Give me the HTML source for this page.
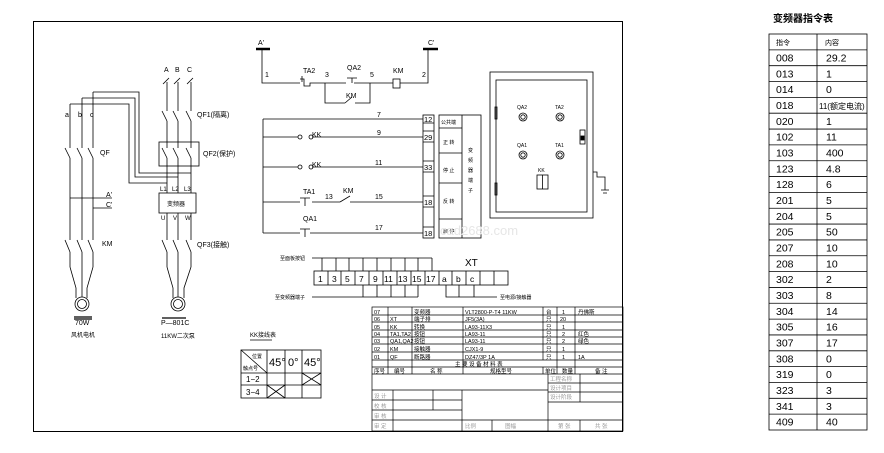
<!DOCTYPE html>
<html><head><meta charset="utf-8"><style>
html,body{margin:0;padding:0;background:#fff;}
svg{display:block;}
text{font-family:"Liberation Sans","Noto Sans CJK SC",sans-serif;fill:#000;}
</style></head><body>
<svg width="884" height="453" viewBox="0 0 884 453" xmlns="http://www.w3.org/2000/svg" stroke="#000" stroke-width="1" fill="none">
<rect x="33.5" y="21.5" width="589" height="410"/>

<g stroke-width="0.8">
<path d="M167 82V267M178 82V267M191 82V267"/>
<path d="M70 104V267M82 98V267M93 92V267"/>
<path d="M93 92H139V173H191M82 98H135V177H178M70 104H129V183H167"/>
</g>
<g stroke="#fff" stroke-width="3">
<path d="M167 111V121M178 111V121M191 111V121M167 148V158M178 148V158M191 148V158M70 148V158M82 148V158M93 148V158M70 240V252M82 240V252M93 240V252M167 240V252M178 240V252M191 240V252"/>
</g>
<g stroke-width="0.8">
<path d="M162 111L167 121M173 111L178 121M186 111L191 121M162 148L167 158M173 148L178 158M186 148L191 158M65 148L70 158M77 148L82 158M88 148L93 158M65 240L70 252M77 240L82 252M88 240L93 252M162 240L167 252M173 240L178 252M186 240L191 252"/>
<rect x="159" y="142" width="40" height="24"/>
<rect x="159" y="193" width="37" height="20" fill="#fff"/>
<path d="M70 198H112M93 208H112"/>
<path d="M70 267L76 288V298M93 267L87 288V298M82 267V298M167 267L173 288V298M191 267L184 288V298M178 267V298"/>
<circle cx="82" cy="304" r="7" fill="#fff"/><circle cx="82" cy="304" r="4.5"/>
<circle cx="178" cy="304" r="7" fill="#fff"/><circle cx="178" cy="304" r="4.5"/>
<path d="M163 84L169 78M174 84L180 78M187 84L193 78"/>
<path d="M74 317H92M74 319H92M162 318H186" stroke-width="1.2"/>
</g>
<g font-size="7" stroke="none">
<text x="164" y="72">A</text><text x="175" y="72">B</text><text x="187" y="72">C</text>
<text x="65" y="117">a</text><text x="78" y="117">b</text><text x="90" y="117">c</text>
<text x="197" y="117">QF1(隔离)</text>
<text x="100" y="155">QF</text>
<text x="203" y="156">QF2(保护)</text>
<text x="106" y="197">A'</text><text x="106" y="207">C'</text>
<text x="160" y="191" font-size="6">L1</text><text x="172" y="191" font-size="6">L2</text><text x="184" y="191" font-size="6">L3</text>
<text x="167" y="206" font-size="6">变频器</text>
<text x="161" y="220" font-size="6">U</text><text x="173" y="220" font-size="6">V</text><text x="185" y="220" font-size="6">W</text>
<text x="102" y="246">KM</text>
<text x="197" y="247">QF3(接触)</text>
<text x="75" y="325">70W</text><text x="71" y="337" font-size="6">风机电机</text>
<text x="161" y="325">P—801C</text><text x="161" y="338" font-size="6">11KW二次泵</text>
</g>

<g stroke-width="0.8">
<path d="M256 49H270M423 49H438" stroke-width="2.5"/>
<path d="M262 49V83H300M312 83H322M322 83H344M356 83H393M400 83H428V49"/>
<rect x="393" y="79" width="7" height="9"/>
<path d="M300 79H304V86H310V83H312M302 76V82" />
<path d="M344 83H346M352 78V83M347 78H357M354 83H356"/>
<path d="M325 83V103H345M355 103H370V83M345 103L352 97"/>
<path d="M263 119V233M263 119H423M263 137H298M312 137H423M263 167H298M312 167H423M263 202H300M312 202H340M350 202H423M263 233H300M310 233H423"/>
<path d="M305 198V206M300 198H310M340 202L350 196M305 229V237M300 229H310"/>
<circle cx="300" cy="137" r="2"/><circle cx="311" cy="137" r="2"/>
<circle cx="300" cy="167" r="2"/><circle cx="311" cy="167" r="2"/>
<rect x="423" y="115" width="11" height="123"/>
<path d="M423 123H434M423 131H434M423 142H434M423 161H434M423 172H434M423 196H434M423 207H434M423 227H434"/>
<rect x="439" y="115" width="42" height="123"/>
<path d="M462 115V238M439 128H462M439 153H462M439 183H462M439 219H462"/>
<rect x="490" y="72" width="103" height="146"/>
<rect x="496" y="80" width="91" height="132"/>
<circle cx="523" cy="117" r="4"/><circle cx="523" cy="117" r="2.2"/>
<circle cx="560" cy="117" r="4"/><circle cx="560" cy="117" r="2.2"/>
<circle cx="523" cy="155" r="4"/><circle cx="523" cy="155" r="2.2"/>
<circle cx="560" cy="155" r="4"/><circle cx="560" cy="155" r="2.2"/>
<rect x="537" y="175" width="11" height="14"/><path d="M542.5 175V189"/>
<rect x="580" y="130" width="5" height="14"/><rect x="581" y="136" width="3" height="4" fill="#000"/>
<rect x="495" y="107" width="2" height="12"/><rect x="495" y="183" width="2" height="12"/>
<path d="M593 172H597V177H605V190M601 190H609M603 193H607"/>
</g>
<g font-size="7" stroke="none">
<text x="258" y="45">A'</text><text x="428" y="45">C'</text>
<text x="265" y="77">1</text><text x="303" y="73">TA2</text><text x="325" y="77">3</text>
<text x="347" y="70">QA2</text><text x="370" y="77">5</text><text x="393" y="73">KM</text><text x="422" y="77">2</text>
<text x="346" y="98">KM</text>
<text x="377" y="117">7</text><text x="377" y="135">9</text><text x="375" y="165">11</text>
<text x="375" y="199">15</text><text x="375" y="230">17</text>
<text x="312" y="137">KK</text><text x="312" y="167">KK</text>
<text x="303" y="194">TA1</text><text x="325" y="199">13</text><text x="343" y="193">KM</text>
<text x="303" y="221">QA1</text>
<text x="424" y="122" font-size="7.5">12</text><text x="424" y="140" font-size="7.5">29</text>
<text x="424" y="170" font-size="7.5">33</text><text x="424" y="205" font-size="7.5">18</text>
<text x="424" y="236" font-size="7.5">18</text>
<text x="441" y="124" font-size="5">公共端</text>
<text x="443" y="144" font-size="5">正 转</text><text x="443" y="172" font-size="5">停 止</text>
<text x="443" y="203" font-size="5">反 转</text><text x="443" y="233" font-size="5">启 停</text>
<text x="468" y="152" font-size="5">变</text><text x="468" y="162" font-size="5">频</text>
<text x="468" y="172" font-size="5">器</text><text x="468" y="182" font-size="5">端</text><text x="468" y="192" font-size="5">子</text>
<text x="517" y="109" font-size="5">QA2</text><text x="555" y="109" font-size="5">TA2</text>
<text x="517" y="147" font-size="5">QA1</text><text x="555" y="147" font-size="5">TA1</text>
<text x="538" y="172" font-size="5">KK</text>
<text x="440" y="235" font-size="13" style="fill:#e6e6e6">cad2688.com</text>
</g>

<g stroke-width="0.8">
<path d="M312 258H432M322 258V271M336 258V271M349 258V271M363 258V271M377 258V271M391 258V271M405 258V271M418 258V271M432 258V271"/>
<rect x="314" y="271" width="194" height="14"/>
<path d="M328 271V285M341 271V285M355 271V285M369 271V285M383 271V285M397 271V285M411 271V285M425 271V285M439 271V285M452 271V285M466 271V285M480 271V285M494 271V285"/>
<path d="M312 297H418M363 285V297M377 285V297M391 285V297M405 285V297M418 285V297M446 285V297H497M459 285V297M474 285V297"/>
</g>
<g font-size="8.5" stroke="none">
<text x="318" y="282">1</text><text x="332" y="282">3</text><text x="345" y="282">5</text><text x="359" y="282">7</text>
<text x="373" y="282">9</text><text x="384" y="282">11</text><text x="398" y="282">13</text><text x="412" y="282">15</text>
<text x="426" y="282">17</text><text x="442" y="282">a</text><text x="456" y="282">b</text><text x="470" y="282">c</text>
<text x="465" y="266" font-size="10">XT</text>
<text x="280" y="260" font-size="5">至面板按钮</text>
<text x="275" y="299" font-size="5">至变频器端子</text>
<text x="500" y="299" font-size="5">至电源/接触器</text>
</g>

<g stroke-width="0.8">
<text x="250" y="337" font-size="6" stroke="none">KK接线表</text>
<path d="M250 340H272"/>
<rect x="241" y="350" width="80" height="48"/>
<path d="M267 350V398M285 350V398M302 350V398M241 373H321M241 385H321M241 350L267 373M302 373L321 385M302 385L321 373M267 385L285 398M267 398L285 385"/>
</g>
<g font-size="8" stroke="none">
<text x="252" y="358" font-size="5">位置</text><text x="243" y="370" font-size="5">触点号</text>
<text x="269" y="366" font-size="11">45°</text><text x="288" y="366" font-size="11">0°</text><text x="304" y="366" font-size="11">45°</text>
<text x="246" y="382">1−2</text><text x="246" y="395">3−4</text>
</g>

<g stroke-width="0.7">
<rect x="372" y="307" width="251" height="124"/>
<path d="M372 315H623M372 322H623M372 330H623M372 337H623M372 344H623M372 352H623M372 360H623M372 367H623M372 374H623"/>
<path d="M388 307V374M412 307V374M463 307V374M543 307V360M557 307V374M575 307V374M543 367V374"/>
<path d="M372 390H548M372 400H462M372 410H462M372 420H623M393 390V431M433 390V410M462 390V431M548 374V431M580 374V402M548 383H623M548 392H623M548 402H623M492 420V431M580 420V431"/>
</g>
<g font-size="5.5" stroke="none">
<text x="374" y="314">07</text><text x="414" y="314">变频器</text><text x="465" y="314">VLT2800-P-T4 11KW</text><text x="546" y="314">台</text><text x="562" y="314">1</text><text x="578" y="314">丹佛斯</text>
<text x="374" y="321">06</text><text x="390" y="321">XT</text><text x="414" y="321">端子排</text><text x="465" y="321">JF5(3A)</text><text x="546" y="321">只</text><text x="560" y="321">20</text>
<text x="374" y="329">05</text><text x="390" y="329">KK</text><text x="414" y="329">转换</text><text x="465" y="329">LA93-11X3</text><text x="546" y="329">只</text><text x="562" y="329">1</text>
<text x="374" y="336">04</text><text x="390" y="336">TA1,TA2</text><text x="414" y="336">按钮</text><text x="465" y="336">LA93-11</text><text x="546" y="336">只</text><text x="562" y="336">2</text><text x="578" y="336">红色</text>
<text x="374" y="343">03</text><text x="390" y="343">QA1,QA2</text><text x="414" y="343">按钮</text><text x="465" y="343">LA93-11</text><text x="546" y="343">只</text><text x="562" y="343">2</text><text x="578" y="343">绿色</text>
<text x="374" y="351">02</text><text x="390" y="351">KM</text><text x="414" y="351">接触器</text><text x="465" y="351">CJX1-9</text><text x="546" y="351">只</text><text x="562" y="351">1</text>
<text x="374" y="359">01</text><text x="390" y="359">QF</text><text x="414" y="359">断路器</text><text x="465" y="359">DZ47/3P 1A</text><text x="546" y="359">只</text><text x="562" y="359">1</text><text x="578" y="359">1A</text>
<text x="455" y="366">主 要 设 备 材 料 表</text>
<text x="374" y="373">序号</text><text x="394" y="373">编号</text><text x="430" y="373">名 称</text><text x="490" y="373">规格型号</text><text x="545" y="373">单位</text><text x="562" y="373">数量</text><text x="595" y="373">备 注</text>
<text x="550" y="381" style="fill:#999">工程名称</text><text x="550" y="390" style="fill:#999">设计项目</text><text x="550" y="399" style="fill:#999">设计阶段</text>
<text x="374" y="398" style="fill:#999">设 计</text><text x="374" y="408" style="fill:#999">校 核</text><text x="374" y="418" style="fill:#999">审 核</text><text x="374" y="428" style="fill:#999">审 定</text>
<text x="465" y="428" style="fill:#999">比例</text><text x="505" y="428" style="fill:#999">图幅</text><text x="558" y="428" style="fill:#999">第  张</text><text x="595" y="428" style="fill:#999">共  张</text>
</g>

<text x="773" y="22" font-size="10" stroke="none" font-weight="bold">变频器指令表</text>
<g stroke-width="0.8">
<rect x="769" y="34" width="98" height="396"/>
<path d="M817 34V430"/>
<path d="M769 49.84H867M769 65.68H867M769 81.52H867M769 97.36H867M769 113.2H867M769 129.04H867M769 144.88H867M769 160.72H867M769 176.56H867M769 192.4H867M769 208.24H867M769 224.08H867M769 239.92H867M769 255.76H867M769 271.6H867M769 287.44H867M769 303.28H867M769 319.12H867M769 334.96H867M769 350.8H867M769 366.64H867M769 382.48H867M769 398.32H867M769 414.16H867"/>
</g>
<g font-size="10.5" stroke="none">
<text x="776" y="45" font-size="7">指令</text><text x="825" y="45" font-size="7">内容</text>
<text x="776" y="61.5">008</text><text x="826" y="61.5">29.2</text>
<text x="776" y="77.3">013</text><text x="826" y="77.3">1</text>
<text x="776" y="93.1">014</text><text x="826" y="93.1">0</text>
<text x="776" y="109">018</text><text x="819" y="109" font-size="8">11(额定电流)</text>
<text x="776" y="124.8">020</text><text x="826" y="124.8">1</text>
<text x="776" y="140.6">102</text><text x="826" y="140.6">11</text>
<text x="776" y="156.5">103</text><text x="826" y="156.5">400</text>
<text x="776" y="172.3">123</text><text x="826" y="172.3">4.8</text>
<text x="776" y="188.1">128</text><text x="826" y="188.1">6</text>
<text x="776" y="204">201</text><text x="826" y="204">5</text>
<text x="776" y="219.8">204</text><text x="826" y="219.8">5</text>
<text x="776" y="235.6">205</text><text x="826" y="235.6">50</text>
<text x="776" y="251.5">207</text><text x="826" y="251.5">10</text>
<text x="776" y="267.3">208</text><text x="826" y="267.3">10</text>
<text x="776" y="283.1">302</text><text x="826" y="283.1">2</text>
<text x="776" y="299">303</text><text x="826" y="299">8</text>
<text x="776" y="314.8">304</text><text x="826" y="314.8">14</text>
<text x="776" y="330.6">305</text><text x="826" y="330.6">16</text>
<text x="776" y="346.5">307</text><text x="826" y="346.5">17</text>
<text x="776" y="362.3">308</text><text x="826" y="362.3">0</text>
<text x="776" y="378.1">319</text><text x="826" y="378.1">0</text>
<text x="776" y="394">323</text><text x="826" y="394">3</text>
<text x="776" y="409.8">341</text><text x="826" y="409.8">3</text>
<text x="776" y="425.6">409</text><text x="826" y="425.6">40</text>
</g>
</svg>
</body></html>
